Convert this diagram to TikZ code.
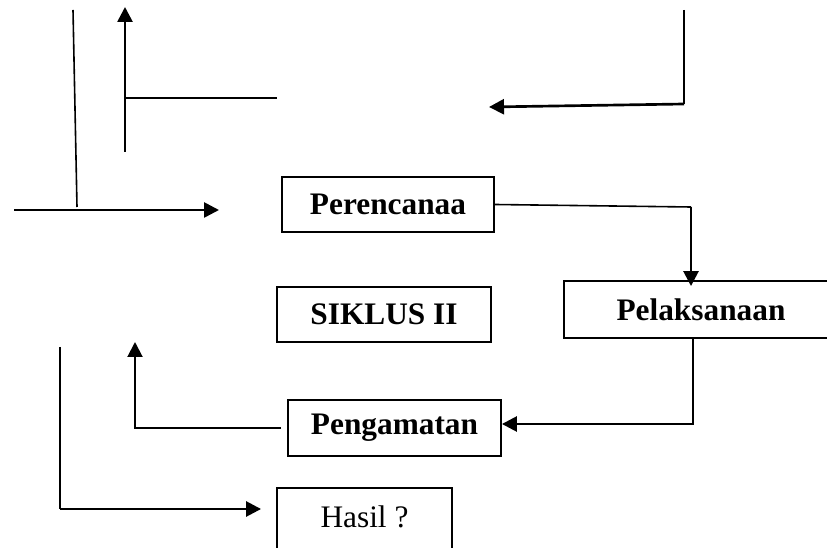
\documentclass[tikz,border=0pt]{standalone}
\usepackage{fontspec}
\setmainfont{Liberation Serif}
\usetikzlibrary{arrows.meta}
\begin{document}
\begin{tikzpicture}[x=0.75pt,y=-0.75pt,
  box/.style={draw,line width=1.4pt,inner sep=0pt,font=\fontsize{23.5}{28}\selectfont\bfseries},
  thin/.style={line width=1.2pt},
  arr/.style={line width=2pt,-{Triangle[length=11.25pt,width=11.25pt]}},
  thinarr/.style={line width=1.5pt,-{Triangle[length=11.25pt,width=11.25pt]}}]
\useasboundingbox (0,0) rectangle (827,548);
\clip (0,0) rectangle (827,548);
% boxes
\node[box,minimum width=159pt,minimum height=41.25pt] (per) at (388,204.5) {Perencanaa};
\node[box,minimum width=160.5pt,minimum height=41.25pt] (sik) at (384,314.5) {SIKLUS II};
\node[box,minimum width=205.5pt,minimum height=42.75pt] (pel) at (701,309.5) {Pelaksanaan};
\node[box,minimum width=159.75pt,minimum height=42pt] (pen) at (394.5,428) {Pengamatan};
\node[draw,line width=1.4pt,inner xsep=0pt,inner ysep=0pt,minimum width=131.25pt,
      text height=29.25pt,text depth=24.75pt,anchor=base,
      font=\fontsize{23.5}{28}\selectfont] (has) at (364.5,527) {Hasil ?};
% free coordinates
\coordinate (a1) at (73,10);
\coordinate (a2) at (77,207);
\coordinate (b1) at (125,152);
\coordinate (b2) at (125,7);
\coordinate (c1) at (125,98);
\coordinate (c2) at (277,98);
\coordinate (d1) at (684,10);
\coordinate (d2) at (684,104);
\coordinate (d3) at (489,107);
\coordinate (e1) at (14,210);
\coordinate (e2) at (219,210);
\coordinate (f1) at (691,207);
\coordinate (g1) at (693,424);
\coordinate (h1) at (135,428);
\coordinate (h2) at (135,342);
\coordinate (k1) at (60,347);
\coordinate (k2) at (60,509);
% connectors
\draw[thin] (a1) -- (a2);
\draw[arr] (b1) -- (b2);
\draw[thin] (c1) -- (c2);
\draw[line width=1.8pt] (d1) -- (d2);
\draw[arr] (d2) -- (d3);
\draw[arr] (e1) -- (e2);
\draw[thin] (per.east) -- (f1);
\draw[arr,shorten >=-4.5pt] (f1) -- (f1 |- pel.north);
\draw[arr] (pel.south -| g1) -- (g1) -- (pen.east |- g1);
\draw[thinarr,shorten <=4.5pt] (pen.west) -- (h1) -- (h2);
\draw[thin] (k1) -- (k2);
\draw[arr,shorten >=11.25pt] (k2) -- (k2 -| has.west);
\end{tikzpicture}
\end{document}
